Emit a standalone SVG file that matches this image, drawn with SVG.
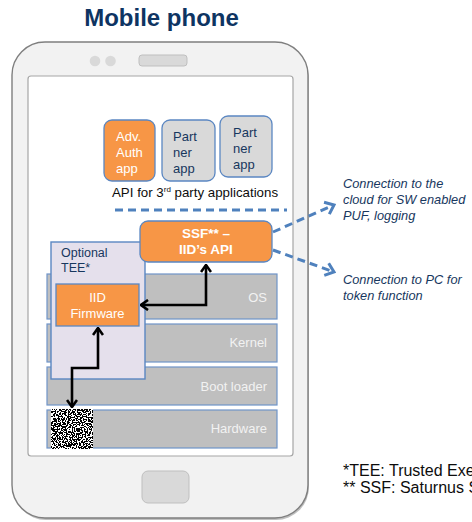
<svg xmlns="http://www.w3.org/2000/svg" width="472" height="522" viewBox="0 0 472 522">
<style>
text{font-family:"Liberation Sans",Arial,sans-serif}
.title{font-size:24px;font-weight:bold;fill:#0e3462;text-anchor:middle}
.app{fill:#d9d9d9;stroke:#5b87c2;stroke-width:1.3}
.orange{fill:#f79646;stroke:#5b87c2;stroke-width:1.3}
.layer{fill:#bfbfbf;stroke:#6f94c9;stroke-width:1.2}
.lt{font-size:13px;fill:#f2f2f2;text-anchor:end}
.wt{font-size:13px;fill:#ffffff}
.nt{font-size:13px;fill:#17375e}
.it{font-size:12.8px;font-style:italic;fill:#17375e}
.fn{font-size:16px;fill:#0d0d0d}
.blk{fill:none;stroke:#000;stroke-width:2.6}
.dash{fill:none;stroke:#4f81bd;stroke-width:3;stroke-dasharray:8 5}
</style>
<defs>
<marker id="ab" viewBox="0 0 10 12" refX="9" refY="6" markerWidth="10" markerHeight="12" markerUnits="userSpaceOnUse" orient="auto-start-reverse">
<path d="M2,1 L9,6 L2,11" fill="none" stroke="#000" stroke-width="2.6"/>
</marker>
<marker id="au" viewBox="0 0 12 16" refX="10" refY="8" markerWidth="12" markerHeight="16" markerUnits="userSpaceOnUse" orient="auto">
<path d="M2,1.5 L10,8 L2,14.5" fill="none" stroke="#4f81bd" stroke-width="3" stroke-dasharray="none"/>
</marker>
<filter id="noise" x="0" y="0" width="100%" height="100%" filterUnits="objectBoundingBox">
<feTurbulence type="fractalNoise" baseFrequency="0.8" numOctaves="1" seed="5"/>
<feColorMatrix type="matrix" values="0.33 0.33 0.33 0 0 0.33 0.33 0.33 0 0 0.33 0.33 0.33 0 0 0 0 0 0 1"/>
<feComponentTransfer>
<feFuncR type="discrete" tableValues="0 1"/>
<feFuncG type="discrete" tableValues="0 1"/>
<feFuncB type="discrete" tableValues="0 1"/>
</feComponentTransfer>
</filter>
</defs>
<rect width="472" height="522" fill="#ffffff"/>
<text class="title" x="161.5" y="26">Mobile phone</text>

<g id="phone">
<rect x="13" y="44" width="296" height="476" rx="33" fill="#bfbfbf"/>
<rect x="12" y="42" width="296" height="476" rx="33" fill="#f2f2f2" stroke="#7f7f7f" stroke-width="1.4"/>
<circle cx="95" cy="61" r="5.3" fill="#d9d9d9"/>
<circle cx="110.5" cy="61" r="5.3" fill="#d9d9d9"/>
<rect x="139" y="55" width="48" height="11" rx="3" fill="#d9d9d9" stroke="#bfbfbf"/>
<rect x="28" y="76" width="265" height="380" rx="3" fill="#ffffff" stroke="#a6a6a6" stroke-width="1.2"/>
<rect x="142" y="471" width="47" height="32" rx="6" fill="#d9d9d9" stroke="#bfbfbf"/>
</g>

<g id="layer-os"><rect class="layer" x="47" y="274" width="230" height="45"/><text class="lt" x="267" y="302">OS</text></g>
<g id="layer-kernel"><rect class="layer" x="47" y="324" width="230" height="38"/><text class="lt" x="267" y="347">Kernel</text></g>
<g id="layer-boot"><rect class="layer" x="47" y="367" width="230" height="38"/><text class="lt" x="267" y="391">Boot loader</text></g>
<g id="layer-hw"><rect class="layer" x="47" y="410" width="230" height="38"/><text class="lt" x="267" y="433">Hardware</text></g>
<g id="puf"><rect x="51" y="409" width="42" height="40" fill="#fff" filter="url(#noise)"/></g>

<g id="tee"><rect x="51" y="242" width="94" height="137" fill="#e5e0ec" stroke="#5b87c2" stroke-width="1.4"/>
<text class="nt" x="61" y="257" style="font-size:12.5px">Optional</text><text class="nt" x="61" y="272" style="font-size:12.5px">TEE*</text></g>
<g id="iid-fw"><rect class="orange" x="56" y="284" width="83" height="42"/>
<text class="wt" x="97.5" y="302" text-anchor="middle">IID</text><text class="wt" x="97.5" y="318" text-anchor="middle">Firmware</text></g>

<g id="app-auth"><rect class="orange" x="104" y="120" width="51" height="61" rx="8"/>
<text class="wt" x="116" y="141">Adv.</text><text class="wt" x="116" y="157">Auth</text><text class="wt" x="116" y="173">app</text></g>
<g id="app-partner1"><rect class="app" x="162" y="120" width="53" height="61" rx="8"/>
<text class="nt" x="173" y="141">Part</text><text class="nt" x="173" y="157">ner</text><text class="nt" x="173" y="173">app</text></g>
<g id="app-partner2"><rect class="app" x="220" y="116" width="52" height="61" rx="8"/>
<text class="nt" x="233" y="137">Part</text><text class="nt" x="233" y="153">ner</text><text class="nt" x="233" y="169">app</text></g>
<text x="112" y="197" style="font-size:13.3px" fill="#0d0d0d">API for 3<tspan dy="-5" style="font-size:8px">rd</tspan><tspan dy="5"> party applications</tspan></text>

<g id="ssf"><rect class="orange" x="140" y="221" width="132" height="41" rx="8"/>
<text class="wt" x="206" y="238" text-anchor="middle" font-weight="bold" style="font-size:13.5px">SSF** –</text>
<text class="wt" x="206" y="254" text-anchor="middle" font-weight="bold" style="font-size:13.5px">IID’s API</text></g>

<g id="connectors">
<line class="dash" x1="115" y1="210" x2="287" y2="210"/>
<line class="dash" x1="273" y1="232" x2="334" y2="205" marker-end="url(#au)"/>
<line class="dash" x1="273" y1="250" x2="334" y2="272" marker-end="url(#au)"/>
<polyline class="blk" points="141,305 206,305 206,265" marker-start="url(#ab)" marker-end="url(#ab)"/>
<polyline class="blk" points="98,328 98,368 72,368 72,407" marker-start="url(#ab)" marker-end="url(#ab)"/>
</g>

<g id="labels">
<text class="it" x="343" y="188">Connection to the</text>
<text class="it" x="343" y="204">cloud for SW enabled</text>
<text class="it" x="343" y="220">PUF, logging</text>
<text class="it" x="343" y="284">Connection to PC for</text>
<text class="it" x="343" y="300">token function</text>
<text class="fn" x="343" y="476">*TEE: Trusted Exe</text>
<text class="fn" x="343" y="493">** SSF: Saturnus S</text>
</g>
</svg>
